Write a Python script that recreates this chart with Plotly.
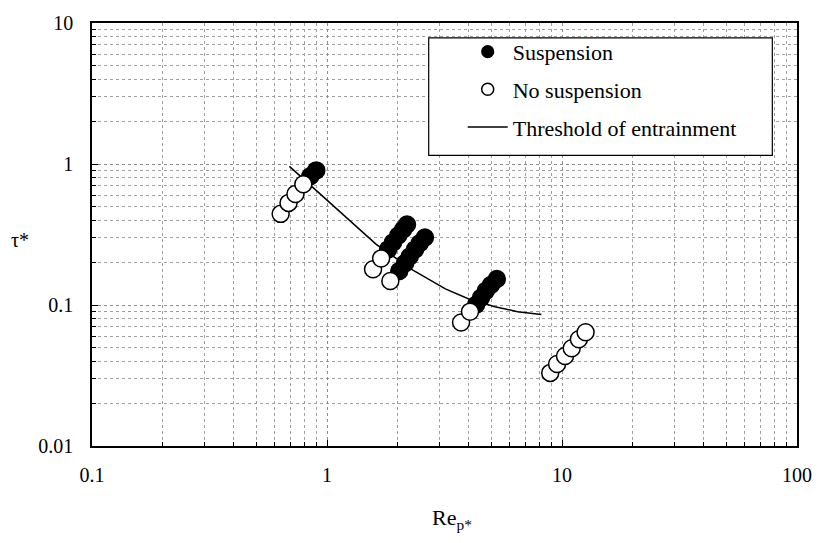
import plotly.graph_objects as go

# Suspension (filled circles)
susp_x = [0.849, 0.900,
          1.82, 1.91, 2.01, 2.11, 2.19,
          2.03, 2.15, 2.25, 2.37, 2.48, 2.61,
          4.31, 4.52, 4.74, 4.98, 5.28]
susp_y = [0.818, 0.901,
          0.248, 0.278, 0.311, 0.343, 0.372,
          0.174, 0.198, 0.221, 0.248, 0.274, 0.301,
          0.1004, 0.1124, 0.126, 0.1387, 0.1527]

# No suspension (open circles)
nosusp_x = [0.635, 0.686, 0.734, 0.793,
            1.57, 1.70, 1.86,
            3.72, 4.06,
            8.91, 9.53, 10.3, 11.0, 11.8, 12.6]
nosusp_y = [0.443, 0.530, 0.612, 0.719,
            0.1795, 0.214, 0.148,
            0.0751, 0.0897,
            0.033, 0.0382, 0.0435, 0.0494, 0.0571, 0.064]

# Threshold of entrainment
thr_x = [0.692, 1.21, 1.62, 2.32, 3.19, 3.99, 5.18, 6.47, 8.17]
thr_y = [0.962, 0.416, 0.269, 0.177, 0.130, 0.1107, 0.0973, 0.0897, 0.0855]

x_ticks = [0.1, 1, 10, 100]
x_ticktext = ["0.1", "1", "10", "100"]
y_ticks = [0.01, 0.1, 1, 10]
y_ticktext = ["0.01", "0.1", "1", "10"]

FONT = "Liberation Serif"

fig = go.Figure()

# data traces
fig.add_trace(go.Scatter(x=thr_x, y=thr_y, mode="lines",
                         line=dict(color="black", width=1.5),
                         showlegend=False, hoverinfo="skip"))
fig.add_trace(go.Scatter(x=susp_x, y=susp_y, mode="markers",
                         marker=dict(size=17, color="black",
                                     line=dict(color="black", width=1.5)),
                         showlegend=False))
fig.add_trace(go.Scatter(x=nosusp_x, y=nosusp_y, mode="markers",
                         marker=dict(size=17, color="white",
                                     line=dict(color="black", width=1.5)),
                         showlegend=False))

# legend entries
fig.add_trace(go.Scatter(x=[None], y=[None], mode="markers", name="Suspension",
                         legendgroup="a",
                         marker=dict(size=12, color="black",
                                     line=dict(color="black", width=1.2))))
fig.add_trace(go.Scatter(x=[None], y=[None], mode="markers", name="No suspension",
                         legendgroup="b",
                         marker=dict(size=12, color="white",
                                     line=dict(color="black", width=1.5))))
fig.add_trace(go.Scatter(x=[None], y=[None], mode="lines", name="Threshold of entrainment",
                         legendgroup="c",
                         line=dict(color="black", width=1.5)))

def minor_vals(lo, hi):
    vals = []
    d = lo
    while d < hi:
        for k in range(2, 10):
            vals.append(round(d * k, 6))
        d *= 10
    return vals

axis_common = dict(
    type="log",
    showline=True, linecolor="black", linewidth=1.5, mirror=True,
    ticks="inside", ticklen=6, tickcolor="black", tickwidth=1,
    showgrid=True, gridcolor="#8c8c8c", gridwidth=1, griddash="dot",
    zeroline=False,
    tickfont=dict(family=FONT, size=20, color="black"),
)

fig.update_xaxes(**axis_common, range=[-1, 2], tickmode="array",
                 tickvals=x_ticks, ticktext=x_ticktext, ticklabelstandoff=10,
                 minor=dict(tickmode="array", tickvals=minor_vals(0.1, 100),
                            ticks="inside", ticklen=4, tickcolor="black",
                            showgrid=True, gridcolor="#a0a0a0", griddash="dot",
                            gridwidth=1))
fig.update_yaxes(**axis_common, range=[-2, 1], tickmode="array",
                 tickvals=y_ticks, ticktext=y_ticktext, ticklabelstandoff=13,
                 minor=dict(tickmode="array", tickvals=minor_vals(0.01, 10),
                            ticks="inside", ticklen=4, tickcolor="black",
                            showgrid=True, gridcolor="#a0a0a0", griddash="dot",
                            gridwidth=1))

# legend frame (paper coords of plot area)
PW, PH = 714.0, 428.0
lx0, lx1 = (433 - 92) / PW, (781 - 92) / PW
ly0, ly1 = (446 - 152) / PH, (446 - 33) / PH

fig.update_layout(
    width=824, height=543,
    margin=dict(l=92, r=18, t=18, b=97),
    paper_bgcolor="white", plot_bgcolor="white",
    font=dict(family=FONT, size=20, color="black"),
    legend=dict(x=lx0, y=ly1 + 7 / PH, xanchor="left", yanchor="top",
                bgcolor="rgba(0,0,0,0)", borderwidth=0,
                font=dict(family=FONT, size=22, color="black"),
                tracegroupgap=6, traceorder="grouped",
                indentation=34, itemwidth=40),
    shapes=[dict(type="rect", xref="paper", yref="paper",
                 x0=lx0, x1=lx1, y0=ly0, y1=ly1, layer="above",
                 fillcolor="white", line=dict(color="black", width=1.2))],
    annotations=[
        dict(text="τ*", xref="paper", yref="paper", x=-0.102, y=0.486,
             xanchor="center", yanchor="middle",
             showarrow=False, font=dict(family=FONT, size=20)),
        dict(text="Re<sub>p*</sub>", xref="paper", yref="paper", x=0.51, y=-0.172,
             xanchor="center", yanchor="middle",
             showarrow=False, font=dict(family=FONT, size=22)),
    ],
)

fig.write_html("out.html")
